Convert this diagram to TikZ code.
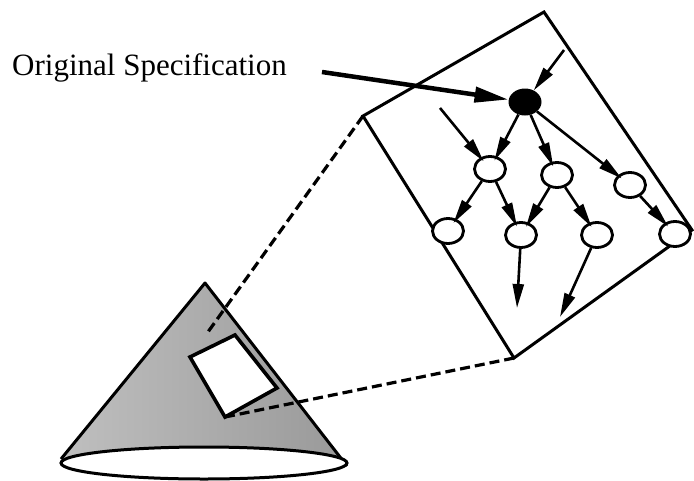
\documentclass[tikz,border=0pt]{standalone}
\usepackage{fontspec}
\setmainfont{Liberation Serif}
\usetikzlibrary{shapes.geometric,arrows.meta,calc}
\begin{document}
\begin{tikzpicture}[x=1pt,y=-1pt,
  onode/.style={ellipse,draw,line width=2.8pt,minimum width=31pt,minimum height=25pt,inner sep=0pt,fill=white},
  bnode/.style={ellipse,fill=black,minimum width=33pt,minimum height=27pt,inner sep=0pt},
  arr/.style={line width=2.6pt,-{Triangle[length=24pt,width=11pt]},shorten >=-5pt},
  frame/.style={line width=3pt},
  dsh/.style={line width=3.2pt,dash pattern=on 10pt off 5pt},
]
\useasboundingbox (0,0) rectangle (694,480);

% cone
\coordinate (apex) at (205,283);
\coordinate (cl) at (61,459);
\coordinate (cr) at (347,466);
\fill[left color=gray!50,right color=gray!80] (apex) -- (cl) -- (cr) -- cycle;
\draw[frame,line join=round] (cl) -- (apex) -- (cr);
\draw[frame,fill=white] (204,463) ellipse [x radius=143pt, y radius=16pt];

% small window
\coordinate (sTL) at (190,357);
\coordinate (sT) at (235,335);
\coordinate (sR) at (277,388);
\coordinate (sB) at (225,417);
\draw[line width=3.6pt,fill=white] (sTL) -- (sT) -- (sR) -- (sB) -- cycle;

% big window
\coordinate (bT) at (544,12);
\coordinate (bL) at (363,116);
\coordinate (bB) at (514,358);
\coordinate (bR) at (692,230);
\draw[frame] (bT) -- (bL) -- (bB) -- (bR) -- cycle;

% dashed connectors
\coordinate (dEnd) at ($(bL)!0.91!(sTL)$);
\draw[dsh] (bL) -- (dEnd);
\draw[dsh] (bB) -- (sB);

% graph nodes
\node[bnode] (S) at (525,102) {};
\node[onode] (A) at (490,169) {};
\node[onode] (B) at (557,175) {};
\node[onode] (C) at (630,185) {};
\node[onode] (D) at (448,231) {};
\node[onode] (E) at (521,235) {};
\node[onode] (F) at (597,235) {};
\node[onode] (G) at (675,234) {};

\coordinate (inS) at (564,50);
\coordinate (inA) at (440,108);
\coordinate (outE) at (517,308);
\coordinate (outF) at (560,317);

\draw[arr,shorten >=0pt] (inS) -- (S);
\draw[arr] (inA) -- (A);
\draw[arr] (S) -- (A);
\draw[arr] (S) -- (B);
\draw[arr] (S) -- (C);
\draw[arr] (A) -- (D);
\draw[arr] (A) -- (E);
\draw[arr] (B) -- (E);
\draw[arr] (B) -- (F);
\draw[arr] (C) -- (G);
\draw[arr,shorten >=0pt] (E) -- (outE);
\draw[arr,shorten >=0pt] (F) -- (outF);

% label
\node[anchor=base west,inner sep=0pt,font={\fontspec{Liberation Serif}\fontsize{31}{36}\selectfont}] (lbl) at (12,75) {Original Specification};
\coordinate (specStart) at (322,72);
\draw[line width=4.5pt,-{Triangle[length=34pt,width=15pt]}] (specStart) -- (S);
\end{tikzpicture}
\end{document}
